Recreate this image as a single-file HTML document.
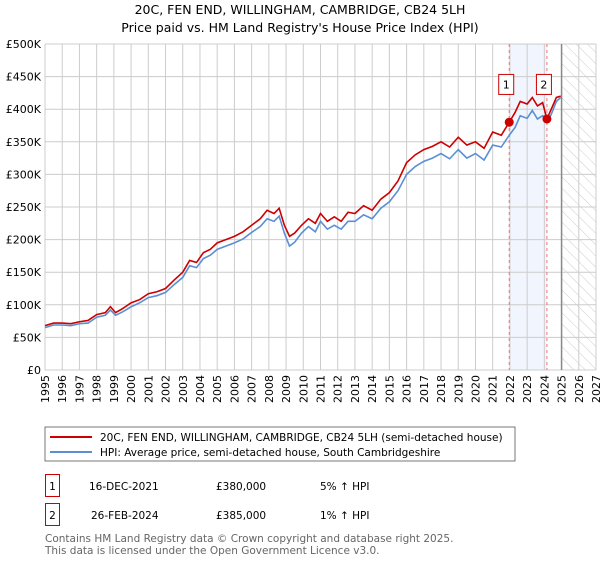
<!DOCTYPE html>
<html><head><meta charset="utf-8"><style>
body{margin:0;background:#fff;font-family:"Liberation Sans","DejaVu Sans",sans-serif}
svg text{font-family:"DejaVu Sans","Liberation Sans",sans-serif}
</style></head><body>
<svg id="c" width="600" height="560" viewBox="0 0 600 560" xmlns="http://www.w3.org/2000/svg">
<defs><pattern id="hatch" width="8" height="8" patternUnits="userSpaceOnUse" patternTransform="rotate(-45)"><line x1="0" y1="0" x2="0" y2="8" stroke="#ccc" stroke-width="1"/></pattern></defs>
<text x="300" y="14" font-size="12.5" text-anchor="middle" fill="#000">20C, FEN END, WILLINGHAM, CAMBRIDGE, CB24 5LH</text>
<text x="300" y="32" font-size="12.5" text-anchor="middle" fill="#000">Price paid vs. HM Land Registry's House Price Index (HPI)</text>
<g id="plot"></g>
<rect x="45" y="427" width="470" height="34" fill="#fff" stroke="#777"/>
<line x1="50" y1="437" x2="92" y2="437" stroke="#cc0000" stroke-width="2"/>
<text x="100" y="441" font-size="10.5">20C, FEN END, WILLINGHAM, CAMBRIDGE, CB24 5LH (semi-detached house)</text>
<line x1="50" y1="452" x2="92" y2="452" stroke="#5b8fd4" stroke-width="2"/>
<text x="100" y="456" font-size="10.5">HPI: Average price, semi-detached house, South Cambridgeshire</text>
<g>
<rect x="45.5" y="474.5" width="14" height="22" fill="#fff" stroke="#cc0000"/><text x="52.5" y="490" font-size="10.5" text-anchor="middle">1</text>
<text x="89" y="490" font-size="10.5">16-DEC-2021</text><text x="216" y="490" font-size="10.5">£380,000</text><text x="320" y="490" font-size="10.5">5% ↑ HPI</text></g>
<g>
<rect x="45.5" y="503.5" width="14" height="22" fill="#fff" stroke="#cc0000"/><text x="52.5" y="519" font-size="10.5" text-anchor="middle">2</text>
<text x="91" y="519" font-size="10.5">26-FEB-2024</text><text x="216" y="519" font-size="10.5">£385,000</text><text x="320" y="519" font-size="10.5">1% ↑ HPI</text></g>
<text x="45" y="542" font-size="10.5" fill="#666">Contains HM Land Registry data © Crown copyright and database right 2025.</text>
<text x="45" y="554" font-size="10.5" fill="#666">This data is licensed under the Open Government Licence v3.0.</text>
</svg>
<script>
const years=[1995,1996,1997,1998,1999,2000,2001,2002,2003,2004,2005,2006,2007,2008,2009,2010,2011,2012,2013,2014,2015,2016,2017,2018,2019,2020,2021,2022,2023,2024,2025,2026,2027];
const yTicks=[0,50,100,150,200,250,300,350,400,450,500];
const yLabels=["£0","£50K","£100K","£150K","£200K","£250K","£300K","£350K","£400K","£450K","£500K"];
const tPrice=[1995,1995.5,1996,1996.5,1997,1997.5,1998,1998.5,1998.8,1999.1,1999.5,2000,2000.5,2001,2001.5,2002,2002.5,2003,2003.4,2003.8,2004.2,2004.6,2005,2005.5,2006,2006.5,2007,2007.5,2007.9,2008.3,2008.6,2008.9,2009.2,2009.5,2009.9,2010.3,2010.7,2011,2011.4,2011.8,2012.2,2012.6,2013,2013.5,2014,2014.5,2015,2015.5,2016,2016.5,2017,2017.5,2018,2018.5,2019,2019.5,2020,2020.5,2021,2021.5,2021.96,2022.3,2022.6,2023,2023.3,2023.6,2023.9,2024.15,2024.4,2024.7,2024.95];
const vPrice=[68,72,72,71,74,76,85,88,97,88,94,103,108,117,120,125,138,150,168,165,180,185,195,200,205,212,222,232,245,240,248,222,205,210,222,232,225,240,228,235,228,242,240,252,245,262,272,290,318,330,338,343,350,342,357,345,350,340,365,360,380,395,412,408,418,405,410,385,400,418,420];
const tHpi=[1995,1995.5,1996,1996.5,1997,1997.5,1998,1998.5,1998.8,1999.1,1999.5,2000,2000.5,2001,2001.5,2002,2002.5,2003,2003.4,2003.8,2004.2,2004.6,2005,2005.5,2006,2006.5,2007,2007.5,2007.9,2008.3,2008.6,2008.9,2009.2,2009.5,2009.9,2010.3,2010.7,2011,2011.4,2011.8,2012.2,2012.6,2013,2013.5,2014,2014.5,2015,2015.5,2016,2016.5,2017,2017.5,2018,2018.5,2019,2019.5,2020,2020.5,2021,2021.5,2021.96,2022.3,2022.6,2023,2023.3,2023.6,2023.9,2024.15,2024.4,2024.7,2024.95];
const vHpi=[65,69,69,68,71,72,81,84,92,84,89,97,103,111,114,119,131,142,160,157,171,176,185,190,195,201,211,220,232,228,236,210,190,196,210,220,212,228,216,222,216,228,228,238,232,248,258,275,300,312,320,325,332,324,338,325,332,322,345,342,360,372,390,386,398,385,390,380,392,412,418];
const sales=[[2021.96,380],[2024.15,385]];
const saleLabels=["1","2"];
const L=45,R=596,T=44,B=370;
const x=t=>L+(t-1995)*(R-L)/32;
const y=v=>B-v*(B-T)/500;
const NS="http://www.w3.org/2000/svg";
const g=document.getElementById('plot');
function mk(tag,a){const e=document.createElementNS(NS,tag);for(const k in a)e.setAttribute(k,a[k]);g.appendChild(e);return e;}
let e;
e=mk('rect',{x:x(2021.96),y:T,width:x(2024.15)-x(2021.96),height:B-T,fill:'#f1f5fd'});


e=mk('rect',{x:x(2025),y:T,width:R-x(2025),height:B-T,fill:'url(#hatch)'});


years.forEach(t=>{const l=mk('line',{x1:x(t),x2:x(t),y1:T,y2:B,stroke:'#ccc'});


const tx=mk('text',{x:0,y:0,'font-size':'11',transform:`translate(${x(t)+4},${B+5}) rotate(-90)`,'text-anchor':'end'});tx.textContent=t;

});
yTicks.forEach((v,i)=>{const l=mk('line',{x1:L,x2:R,y1:y(v),y2:y(v),stroke:'#ccc'});


const tx=mk('text',{x:L-4,y:y(v)+4,'font-size':'11','text-anchor':'end'});tx.textContent=yLabels[i];

});
e=mk('line',{x1:x(2025),x2:x(2025),y1:T,y2:B,stroke:'#888','stroke-width':1.5});


sales.forEach((s,i)=>{const l=mk('line',{x1:x(s[0]),x2:x(s[0]),y1:T,y2:B,stroke:'#e77','stroke-dasharray':'3,3'});

});
function path(ts,vs,col,name){const p=mk('polyline',{points:ts.map((t,i)=>x(t)+','+y(vs[i])).join(' '),fill:'none',stroke:col,'stroke-width':1.6});

}
path(tHpi,vHpi,'#5b8fd4','hpi-line');
path(tPrice,vPrice,'#cc0000','price-line');
sales.forEach((s,i)=>{const c=mk('circle',{cx:x(s[0]),cy:y(s[1]),r:4.5,fill:'#cc0000'});


const bx=x(s[0])-3,by=y(438);
const r=mk('rect',{x:bx-7.5,y:by-10,width:15,height:20,fill:'#fff',stroke:'#cc0000'});


const tx=mk('text',{x:bx,y:by+4,'font-size':'11','text-anchor':'middle'});tx.textContent=saleLabels[i];

});
</script>
</body></html>
